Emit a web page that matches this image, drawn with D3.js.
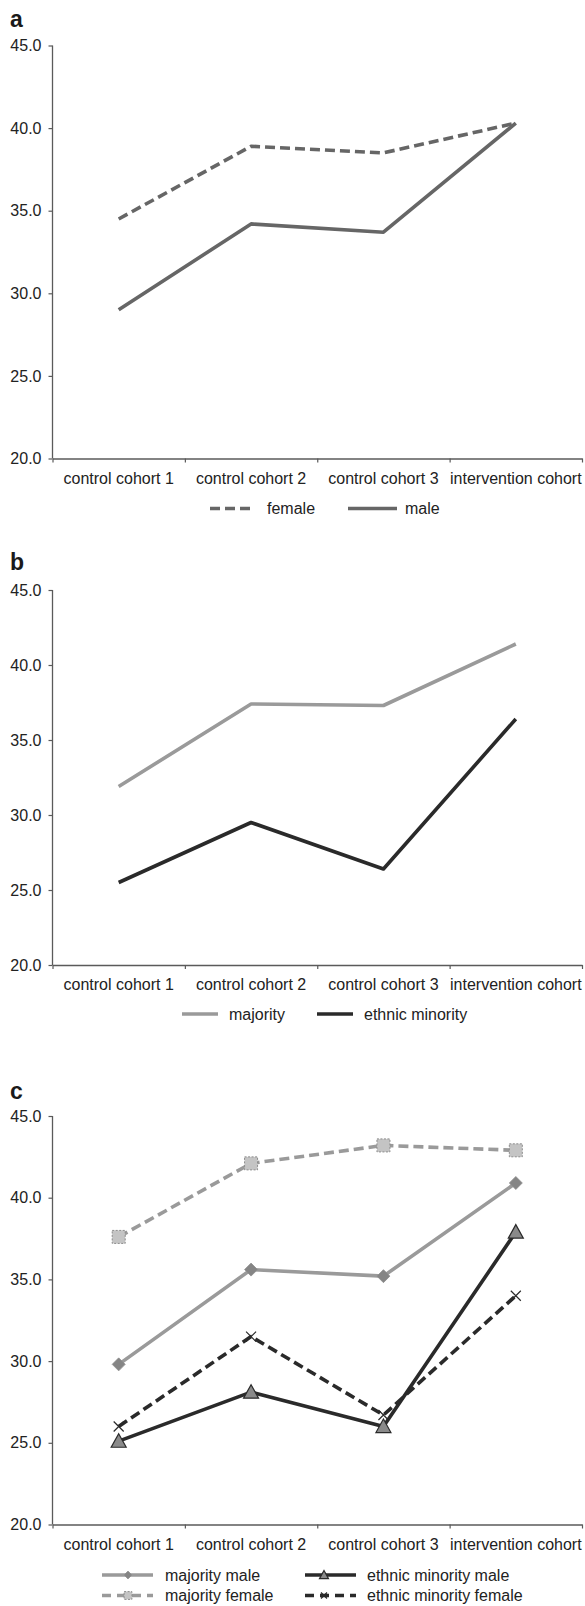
<!DOCTYPE html>
<html>
<head>
<meta charset="utf-8">
<script src="https://cdn.jsdelivr.net/npm/d3@7"></script>
<style>
  html, body { margin: 0; padding: 0; background: #fff; }
  svg { display: block; font-family: "Liberation Sans", Arial, Helvetica, sans-serif; }
</style>
</head>
<body>
<svg id="chart" width="585" height="1606"></svg>
<script>
// ---- data ----
const categories = ["control cohort 1", "control cohort 2", "control cohort 3", "intervention cohort"];
const yTicks = [20, 25, 30, 35, 40, 45];

const aFemale = [34.5, 38.9, 38.5, 40.3];
const aMale   = [29.0, 34.2, 33.7, 40.3];

const bMajority = [31.9, 37.4, 37.3, 41.4];
const bMinority = [25.5, 29.5, 26.4, 36.4];

const cMajorityMale   = [29.8, 35.6, 35.2, 40.9];
const cMajorityFemale = [37.6, 42.1, 43.2, 42.9];
const cMinorityMale   = [25.1, 28.1, 26.0, 37.9];
const cMinorityFemale = [26.0, 31.5, 26.7, 34.0];

// ---- drawing ----
const svg = d3.select("#chart");
const X0 = 52.5, X1 = 582;
const AXIS = "#5a5a5a", TEXT = "#222";

function panel(cfg) {
  const g = svg.append("g");
  const x = d3.scaleBand().domain(categories).range([X0, X1]).padding(0);
  const xb = d3.scaleLinear().domain([0, categories.length]).range([X0, X1]);
  const y = d3.scaleLinear().domain([20, 45]).range([cfg.yBottom, cfg.yTop]);

  // panel letter
  g.append("text").attr("x", 10).attr("y", cfg.letterY)
    .attr("font-size", 23).attr("font-weight", "bold").attr("fill", "#1a1a1a")
    .text(cfg.letter);

  // y axis
  const ya = g.append("g").attr("transform", `translate(${X0},0)`)
    .call(d3.axisLeft(y).tickValues(yTicks).tickFormat(d3.format(".1f")).tickSize(4).tickPadding(7));
  ya.select(".domain").attr("stroke", AXIS).attr("stroke-width", 1.3).attr("d", `M0,${cfg.yTop}V${cfg.yBottom}`);
  ya.selectAll(".tick line").attr("stroke", AXIS).attr("stroke-width", 1.2);
  ya.selectAll(".tick text").attr("font-size", 16).attr("fill", TEXT).attr("font-family", null);

  // x axis boundary ticks
  const xa = g.append("g").attr("transform", `translate(0,${cfg.yBottom})`)
    .call(d3.axisBottom(xb).tickValues(d3.range(categories.length + 1)).tickFormat("").tickSize(4).tickSizeOuter(0));
  xa.select(".domain").attr("stroke", AXIS).attr("stroke-width", 1.3);
  xa.selectAll(".tick line").attr("stroke", AXIS).attr("stroke-width", 1.2);

  // x labels
  const xl = g.append("g").attr("transform", `translate(0,${cfg.yBottom})`)
    .call(d3.axisBottom(x).tickSize(0).tickPadding(14));
  xl.select(".domain").remove();
  xl.selectAll(".tick text").attr("font-size", 16).attr("fill", TEXT).attr("font-family", null);

  const line = d3.line().x((d, i) => x(categories[i]) + x.bandwidth() / 2).y(d => y(d));

  cfg.series.forEach(s => {
    g.append("path").datum(s.values)
      .attr("d", line).attr("fill", "none")
      .attr("stroke", s.color).attr("stroke-width", 3.6)
      .attr("stroke-dasharray", s.dash ? "10,5" : null)
      .attr("stroke-linejoin", "round");
  });
  cfg.series.forEach(s => {
    if (!s.marker) return;
    s.values.forEach((v, i) => {
      drawMarker(g, s.marker, x(categories[i]) + x.bandwidth() / 2, y(v), 1);
    });
  });

  // legend
  const legG = g.append("g");
  cfg.legend.forEach(item => {
    const s = cfg.series[item.series];
    const ly = cfg.yBottom + item.dy;
    legG.append("line")
      .attr("x1", item.x0).attr("x2", item.x1).attr("y1", ly).attr("y2", ly)
      .attr("stroke", s.color).attr("stroke-width", 3.6)
      .attr("stroke-dasharray", s.dash ? (s.marker ? "9,6" : "10,5") : null);
    if (s.marker) drawMarker(legG, s.marker, item.mx, ly, 0.6);
    legG.append("text").attr("x", item.tx).attr("y", ly + 5.5)
      .attr("font-size", 16).attr("fill", TEXT).text(s.name);
  });
}

function drawMarker(g, type, cx, cy, k) {
  if (type === "diamond") {
    const r = 6.5 * k;
    g.append("path").attr("d", `M${cx},${cy - r}L${cx + r},${cy}L${cx},${cy + r}L${cx - r},${cy}Z`)
      .attr("fill", "#858585").attr("stroke", "#8f8f8f").attr("stroke-width", 0.8);
  } else if (type === "square") {
    const h = 6.5 * k;
    g.append("rect").attr("x", cx - h).attr("y", cy - h).attr("width", 2 * h).attr("height", 2 * h)
      .attr("fill", "#c4c4c4").attr("stroke", "#8c8c8c").attr("stroke-width", 1)
      .attr("stroke-dasharray", "2,1.5");
  } else if (type === "triangle") {
    const w = 7.5 * k, h = 13.5 * k;
    g.append("path").attr("d", `M${cx},${cy - h * 0.55}L${cx + w},${cy + h * 0.45}L${cx - w},${cy + h * 0.45}Z`)
      .attr("fill", "#8a8a8a").attr("stroke", "#2a2a2a").attr("stroke-width", 1.2).attr("stroke-linejoin", "miter");
  } else if (type === "x") {
    const r = 5 * k;
    g.append("path").attr("d", `M${cx - r},${cy - r}L${cx + r},${cy + r}M${cx - r},${cy + r}L${cx + r},${cy - r}`)
      .attr("stroke", "#2a2a2a").attr("stroke-width", 1.2).attr("fill", "none");
  }
}

panel({
  letter: "a", letterY: 27, yTop: 45.5, yBottom: 458.5,
  series: [
    { name: "female", values: aFemale, color: "#666666", dash: true },
    { name: "male", values: aMale, color: "#666666", dash: false }
  ],
  legend: [
    { series: 0, x0: 210, x1: 251, tx: 267, dy: 50 },
    { series: 1, x0: 348, x1: 397, tx: 405, dy: 50 }
  ]
});

panel({
  letter: "b", letterY: 570, yTop: 590, yBottom: 965,
  series: [
    { name: "majority", values: bMajority, color: "#9a9a9a", dash: false },
    { name: "ethnic minority", values: bMinority, color: "#2a2a2a", dash: false }
  ],
  legend: [
    { series: 0, x0: 182, x1: 218, tx: 229, dy: 49 },
    { series: 1, x0: 317, x1: 353, tx: 364, dy: 49 }
  ]
});

panel({
  letter: "c", letterY: 1099, yTop: 1116, yBottom: 1524.5,
  series: [
    { name: "majority male", values: cMajorityMale, color: "#9a9a9a", dash: false, marker: "diamond" },
    { name: "majority female", values: cMajorityFemale, color: "#9a9a9a", dash: true, marker: "square" },
    { name: "ethnic minority male", values: cMinorityMale, color: "#2a2a2a", dash: false, marker: "triangle" },
    { name: "ethnic minority female", values: cMinorityFemale, color: "#2a2a2a", dash: true, marker: "x" }
  ],
  legend: [
    { series: 0, x0: 102, x1: 153, mx: 128, tx: 165, dy: 50.5 },
    { series: 1, x0: 102, x1: 153, mx: 128, tx: 165, dy: 71 },
    { series: 2, x0: 305, x1: 356, mx: 324, tx: 367, dy: 50.5 },
    { series: 3, x0: 305, x1: 356, mx: 324, tx: 367, dy: 71 }
  ]
});
</script>
</body>
</html>
